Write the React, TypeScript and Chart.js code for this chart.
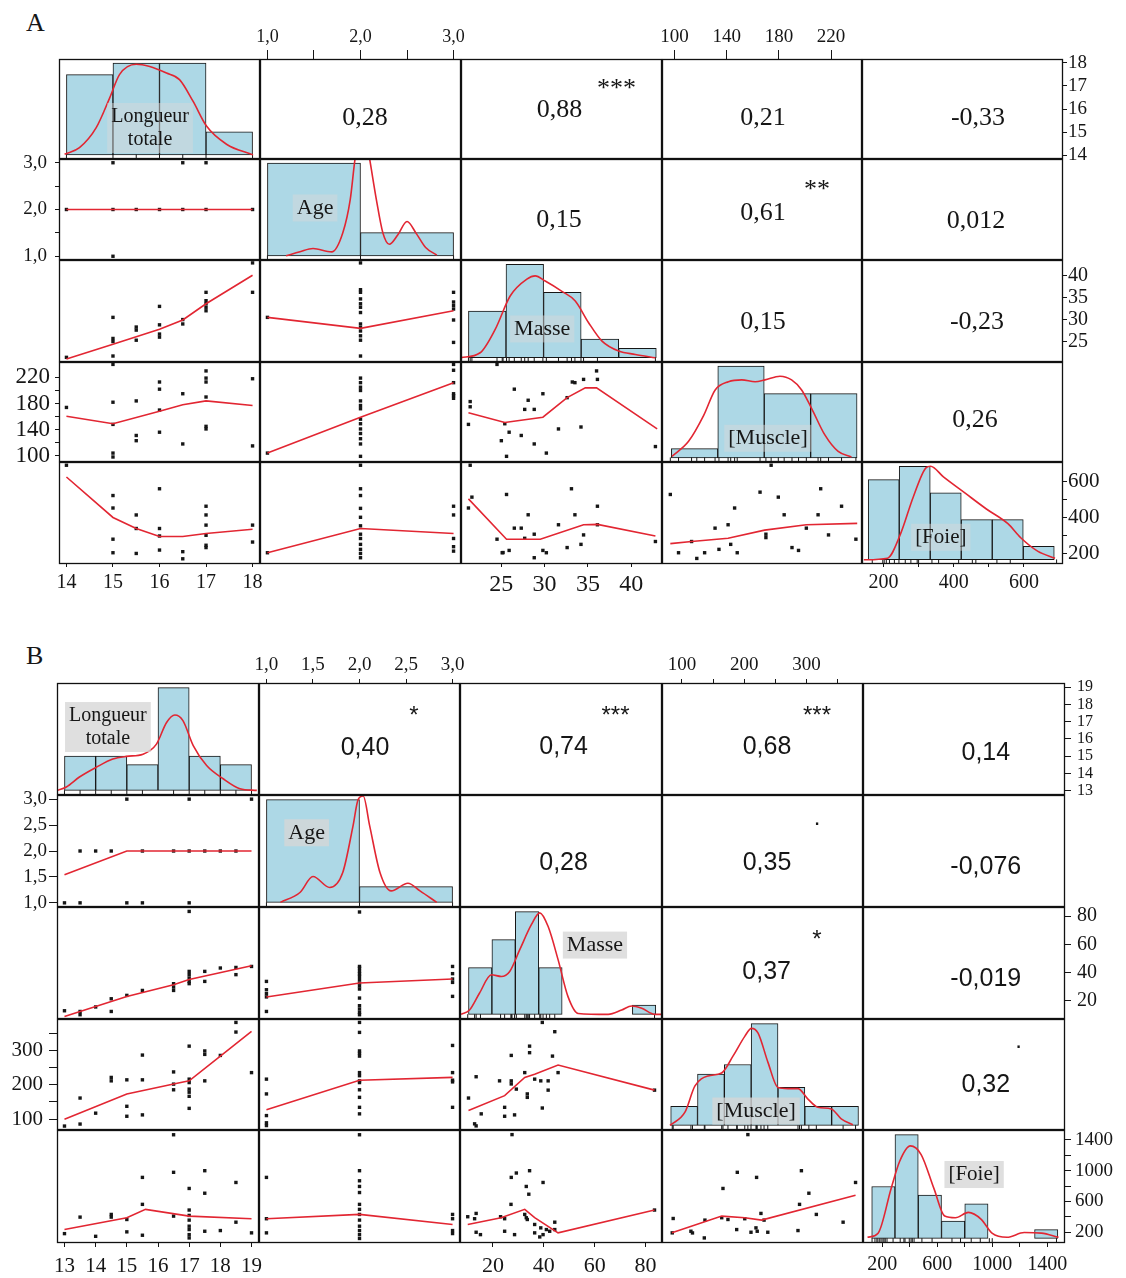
import React, { useEffect, useRef } from "react";
import { Chart, registerables } from "chart.js";

Chart.register(...registerables);

type Pt = [number, number];

const SERIF = '"Liberation Serif", "Times New Roman", Times, serif';
const SANS = '"Liberation Sans", Arial, Helvetica, sans-serif';
const RED = "rgb(226, 38, 50)";
const BAR_BLUE = "#add8e6";
const INK = "#161616";

/* ============================ PANEL A ============================ */
const A_NAMES = ["Longueur\ntotale", "Age", "Masse", "[Muscle]", "[Foie]"];
const A_RANGES: Pt[] = [[14, 18], [1, 3], [21.2, 42.7], [96, 238], [160, 690]];

// histograms: bin edges and bar heights (counts)
const A_L_EDGES = [14, 15, 16, 17, 18];
const A_L_COUNTS = [7, 8, 8, 2];
const A_AGE_EDGES = [1, 2, 3];
const A_AGE_COUNTS = [20, 5];
const A_M_EDGES = [21.2, 25.54, 29.88, 34.22, 38.56, 42.9];
const A_M_COUNTS = [5, 10, 7, 2, 1];
const A_MU_EDGES = [97.5, 133.1, 168.7, 204.3, 239.9];
const A_MU_COUNTS = [1, 10, 7, 7];
const A_F_EDGES = [156.5, 244.8, 333.1, 421.4, 509.7, 598, 686.3];
const A_F_COUNTS = [6, 7, 5, 3, 3, 1];

// density curves (same units as the counts)
const A_L_DENS: Pt[] = [[13.96, 0.06], [14.28, 0.63], [14.64, 2.37], [14.93, 4.97], [15.14, 7.0], [15.5, 7.9], [15.79, 7.7], [16.15, 7.13], [16.43, 6.56], [16.72, 4.68], [17.01, 2.51], [17.44, 0.93], [18.01, 0]];
const A_AGE_DENS: Pt[] = [[1.2, 0], [1.35, 0.9], [1.49, 1.58], [1.69, 0.86], [1.81, 5.0], [1.89, 12.2], [1.94, 20.7], [2.02, 30], [2.1, 20.7], [2.17, 12.2], [2.24, 5], [2.31, 2.5], [2.4, 4.5], [2.5, 7.4], [2.6, 4.8], [2.7, 1.8], [2.82, 0.15]];
const A_M_DENS: Pt[] = [[20.24, 0], [22.55, 0.54], [24.29, 3.04], [26.02, 6.6], [27.95, 8.4], [28.91, 8.75], [30.07, 8.2], [32.0, 7.1], [33.54, 6.07], [35.08, 3.75], [36.63, 1.78], [38.55, 0.72], [40.48, 0.36], [42.8, 0]];
const A_MU_DENS: Pt[] = [[98, 0.17], [110.7, 1.8], [122.2, 4.6], [131.1, 7.4], [141.3, 8.3], [151.5, 8.5], [161.7, 8.3], [169.3, 8.5], [180.8, 8.9], [189.7, 8.5], [197.4, 7.4], [205, 5.4], [215.2, 2.5], [225.4, 0.7], [235.6, 0.1]];
const A_F_DENS: Pt[] = [[144, 0], [211.5, 0.12], [248, 1.9], [284.8, 4.7], [321.6, 6.9], [333.9, 7.0], [370.7, 6.2], [431.7, 5.0], [493, 3.8], [554.3, 2.7], [590.8, 1.65], [639.9, 0.63], [688.4, 0.12]];

// scatter panels [x, y] and their smooth lines
const A_AGE_L: Pt[] = [[15, 3], [16.5, 3], [17, 3], [14, 2], [15, 2], [15.5, 2], [16, 2], [16.5, 2], [17, 2], [18, 2], [15, 1]];
const A_AGE_L_FIT: Pt[] = [[14, 2], [18, 2]];
const A_M_L: Pt[] = [[14, 21.4], [15, 30.5], [15, 25.7], [15, 25.0], [15, 21.7], [15.5, 28.3], [15.5, 27.6], [15.5, 25.3], [16, 33.0], [16, 28.8], [16, 26.7], [16, 26.0], [16.5, 30.0], [16.5, 29.0], [17, 36.2], [17, 34.3], [17, 33.6], [17, 32.8], [17, 32.0], [18, 42.9], [18, 36.2]];
const A_M_L_FIT: Pt[] = [[14, 21.0], [15, 24.4], [16, 27.8], [16.5, 29.9], [17, 33.6], [18, 40.1]];
const A_MU_L: Pt[] = [[14, 174], [15, 240], [15, 182], [15, 148], [15, 104], [15, 98], [15.5, 184], [15.5, 131], [15.5, 123], [16, 213], [16, 202], [16, 170], [16, 136], [16.5, 195], [16.5, 118], [17, 230], [17, 219], [17, 213], [17, 190], [17, 145], [17, 141], [18, 218], [18, 115]];
const A_MU_L_FIT: Pt[] = [[14, 160.5], [15, 149], [16, 168], [16.5, 178], [17, 184], [18, 177]];
const A_F_L: Pt[] = [[14, 693], [15, 523], [15, 453], [15, 278], [15, 202], [15.5, 414], [15.5, 338], [15.5, 198], [16, 561], [16, 338], [16, 296], [16, 217], [16.5, 208], [16.5, 168], [17, 463], [17, 414], [17, 357], [17, 300], [17, 244], [17, 231], [18, 357], [18, 262]];
const A_F_L_FIT: Pt[] = [[14, 627], [15, 400], [15.5, 338], [16, 293], [16.5, 293], [17, 310], [18, 334]];
const A_M_AGE: Pt[] = [[1, 30.5], [2, 42.9], [2, 36.8], [2, 36.2], [2, 34.7], [2, 33.6], [2, 32.8], [2, 31.6], [2, 29.0], [2, 28.2], [2, 27.4], [2, 26.3], [2, 25.3], [2, 21.7], [3, 36.2], [3, 34.0], [3, 33.2], [3, 32.4], [3, 29.9], [3, 24.8]];
const A_M_AGE_FIT: Pt[] = [[1, 30.5], [2, 28.0], [3, 32.0]];
const A_MU_AGE: Pt[] = [[1, 104], [2, 219], [2, 212], [2, 205], [2, 200], [2, 184], [2, 177], [2, 172], [2, 156], [2, 149], [2, 141], [2, 134], [2, 126], [2, 118], [2, 99], [3, 240], [3, 231], [3, 212], [3, 195], [3, 192], [3, 188]];
const A_MU_AGE_FIT: Pt[] = [[1, 104], [2, 159], [3, 212]];
const A_F_AGE: Pt[] = [[1, 202], [2, 693], [2, 561], [2, 523], [2, 451], [2, 401], [2, 353], [2, 306], [2, 282], [2, 249], [2, 221], [2, 198], [2, 174], [3, 463], [3, 414], [3, 282], [3, 236], [3, 211]];
const A_F_AGE_FIT: Pt[] = [[1, 202], [2, 338], [3, 310]];
const A_MU_M: Pt[] = [[24.5, 240], [21.4, 183], [21.4, 175], [21.2, 148], [26.5, 202], [28.1, 185], [27.7, 171], [28.8, 171], [29.8, 195], [25.4, 149], [25.9, 136], [27.3, 131], [25.0, 123], [28.8, 118], [30.2, 104], [25.6, 99], [31.6, 141], [32.6, 189], [33.2, 213], [33.5, 212], [34.5, 217], [36.0, 230], [36.1, 217], [34.2, 144], [42.8, 114]];
const A_MU_M_FIT: Pt[] = [[21.2, 166], [25.4, 151], [29.8, 159], [32.6, 189], [34.7, 204], [36, 204], [43, 141]];
const A_F_M: Pt[] = [[21.4, 693], [21.6, 514], [21.2, 453], [25.6, 529], [24.5, 278], [26.5, 340], [27.3, 340], [27.7, 283], [28.1, 415], [28.8, 306], [25.1, 202], [25.2, 203], [25.9, 215], [29.8, 215], [30.2, 202], [28.8, 174], [31.6, 359], [33.1, 561], [33.5, 415], [32.6, 231], [34.2, 249], [34.5, 302], [36.1, 463], [36.1, 359], [42.8, 265]];
const A_F_M_FIT: Pt[] = [[21.2, 504], [25.6, 278], [29.5, 278], [34.5, 359], [36.1, 361], [42.8, 296]];
const A_F_MU: Pt[] = [[96.7, 529], [103, 202], [113, 265], [117, 170], [123, 202], [131, 340], [134, 221], [141, 359], [143, 249], [146, 453], [148, 202], [165.5, 542], [170, 306], [170, 287], [174, 693], [179.5, 514], [184, 415], [190, 231], [195, 215], [201, 340], [210, 415], [212, 561], [218, 302], [228, 463], [239, 278]];
const A_F_MU_FIT: Pt[] = [[96.7, 253], [113, 265], [141, 283], [169, 329], [201, 359], [240, 367]];

// correlation panels
const A_CORR_CELLS: Pt[] = [[0, 1], [0, 2], [0, 3], [0, 4], [1, 2], [1, 3], [1, 4], [2, 3], [2, 4], [3, 4]];
const A_CORR_R = ["0,28", "0,88", "0,21", "-0,33", "0,15", "0,61", "0,012", "0,15", "-0,23", "0,26"];
const A_CORR_STARS = ["", "***", "", "", "", "**", "", "", "", ""];

// axis ticks
const A_L_TICKS = [14, 15, 16, 17, 18];
const A_AGE_TICKS = [1, 1.5, 2, 2.5, 3];
const A_AGE_LABELS = [1, 2, 3];
const A_M_TICKS = [25, 30, 35, 40];
const A_MU_TICKS_TOP = [100, 140, 180, 220];
const A_MU_TICKS_LEFT = [100, 120, 140, 160, 180, 200, 220];
const A_MU_LABELS = [100, 140, 180, 220];
const A_F_TICKS = [200, 300, 400, 500, 600];
const A_F_LABELS = [200, 400, 600];

/* ============================ PANEL B ============================ */
const B_NAMES = ["Longueur\ntotale", "Age", "Masse", "[Muscle]", "[Foie]"];
const B_RANGES: Pt[] = [[13, 19], [1, 3], [10, 83.5], [80, 379], [113.5, 1475.5]];

const B_L_EDGES = [13, 14, 15, 16, 17, 18, 19];
const B_L_COUNTS = [4, 4, 3, 12, 4, 3];
const B_AGE_EDGES = [1, 2, 3];
const B_AGE_COUNTS = [26, 4];
const B_M_EDGES = [10.4, 19.6, 28.8, 38.0, 47.2, 56.4, 65.6, 74.8, 84.0];
const B_M_COUNTS = [5, 8, 11, 5, 0, 0, 0, 1];
const B_MU_EDGES = [82, 125.1, 168.2, 211.3, 254.4, 297.5, 340.6, 383.7];
const B_MU_COUNTS = [2, 5.4, 6.4, 10.7, 4, 2, 2];
const B_F_EDGES = [122.5, 291.9, 461.3, 630.7, 800.1, 969.5, 1138.9, 1308.3, 1477.7];
const B_F_COUNTS = [6, 12, 5, 2, 4, 0, 0, 1];

const B_L_DENS: Pt[] = [[12.79, 0], [13.06, 0.4], [13.48, 1.56], [14.02, 2.7], [14.55, 3.66], [14.99, 3.97], [15.52, 4.23], [15.95, 5.4], [16.27, 7.9], [16.54, 8.8], [16.8, 8.15], [17.13, 5.23], [17.56, 2.9], [18.09, 1.36], [18.63, 0.2], [19.17, 0]];
const B_AGE_DENS: Pt[] = [[1.15, 0], [1.36, 2.5], [1.5, 6.55], [1.68, 3.78], [1.82, 7.56], [1.93, 19.3], [1.985, 26], [2.04, 26.9], [2.11, 19.3], [2.22, 7.56], [2.34, 2.9], [2.52, 4.84], [2.65, 2.9], [2.83, 0]];
const B_M_DENS: Pt[] = [[7.5, 0], [10.8, 0.46], [14.7, 2.26], [19.4, 4.24], [23.3, 4.06], [26.6, 4.6], [30.5, 6.9], [35.1, 9.6], [38.4, 10.87], [41.7, 9.4], [45.6, 5.86], [49.5, 1.9], [53.5, 0.1], [65.3, 0], [70.6, 0.46], [74.5, 0.9], [78.5, 0.65], [83.7, 0], [86.3, 0]];
const B_MU_DENS: Pt[] = [[80.8, 0], [104.9, 1.39], [121, 4.15], [142.2, 5.2], [163.7, 5.5], [182.3, 7.3], [201, 9.36], [211.8, 10.2], [222.4, 9.7], [238.4, 6.6], [254.4, 3.98], [270.5, 3.87], [286.5, 3.87], [302.5, 2.77], [318.5, 1.9], [340, 1.73], [356, 0.69], [374.7, 0.07]];
const B_F_DENS: Pt[] = [[91.8, 0.12], [169, 0.6], [263.4, 5.75], [325.5, 8.9], [403.6, 10.7], [482.4, 9.7], [575.8, 5.75], [654, 2.58], [732, 2.38], [826, 3.0], [920, 2.2], [998.5, 0.6], [1108, 0.12], [1233, 0.67], [1358, 0.6], [1483, 0.12]];

const B_AGE_L: Pt[] = [[15, 3], [17, 3], [19, 3], [13.5, 2], [14, 2], [14.5, 2], [15.5, 2], [16.5, 2], [17, 2], [17.5, 2], [18, 2], [18.5, 2], [13, 1], [13.5, 1], [15, 1], [15.5, 1], [17, 1]];
const B_AGE_L_FIT: Pt[] = [[13, 1.54], [15, 2], [19, 2]];
const B_M_L: Pt[] = [[13, 12.9], [13.5, 12.4], [13.5, 10.1], [14, 15.6], [14.5, 21.4], [14.5, 12.4], [15, 23.8], [15.5, 27.3], [16.5, 32.1], [16.5, 29.7], [16.5, 27.3], [17, 83.3], [17, 40.8], [17, 38.5], [17, 36.1], [17, 33.7], [17, 32.1], [17.5, 40.8], [17.5, 33.7], [18, 43.2], [18.5, 43.6], [18.5, 38.5], [19, 44.3]];
const B_M_L_FIT: Pt[] = [[13, 8.9], [15, 23], [16.5, 31.4], [17, 35], [19, 44.8]];
const B_MU_L: Pt[] = [[13, 79.5], [13.5, 161], [13.5, 85.3], [14, 117], [14.5, 221], [14.5, 211], [15, 214], [15, 137], [15, 108], [15.5, 286], [15.5, 214], [15.5, 112], [16.5, 237], [16.5, 201.5], [16.5, 185], [17, 312], [17, 216], [17, 206], [17, 187], [17, 178], [17, 166], [17, 131], [17.5, 298], [17.5, 288], [17.5, 211], [18, 285], [18.5, 381], [18.5, 353], [19, 235]];
const B_MU_L_FIT: Pt[] = [[13, 99], [15, 173], [16.5, 202], [17, 211], [18, 283], [19, 355]];
const B_F_L: Pt[] = [[13, 181], [13.5, 396], [14, 146], [14.5, 431], [14.5, 396], [15, 365], [15, 204], [15.5, 913], [15.5, 562], [15.5, 160], [16.5, 1468], [16.5, 979], [16.5, 409], [17, 769], [17, 488], [17, 418], [17, 357], [17, 278], [17, 234], [17, 168], [17, 125], [17.5, 1000], [17.5, 707], [17.5, 212], [18, 221], [18.5, 847], [18.5, 330], [19, 191]];
const B_F_L_FIT: Pt[] = [[13, 234], [15, 388], [15.6, 497], [17, 409], [19, 375]];
const B_M_AGE: Pt[] = [[1, 33.7], [1, 27.8], [1, 25], [1, 22.7], [1, 12.4], [2, 82.9], [2, 44.3], [2, 43], [2, 40.8], [2, 39], [2, 37.3], [2, 34.9], [2, 32.6], [2, 30.5], [2, 28.3], [2, 21.9], [2, 16.5], [2, 14.1], [2, 11.7], [2, 10.1], [3, 44.3], [3, 39.2], [3, 35.4], [3, 33], [3, 23.1]];
const B_M_AGE_FIT: Pt[] = [[1, 22.6], [2, 32.6], [3, 35.4]];
const B_MU_AGE: Pt[] = [[1, 216], [1, 173], [1, 110], [1, 89], [1, 81], [2, 381], [2, 352], [2, 298], [2, 291], [2, 283], [2, 235], [2, 226], [2, 211], [2, 206], [2, 185], [2, 163], [2, 134], [2, 115], [3, 314], [3, 235], [3, 213], [3, 208], [3, 134]];
const B_MU_AGE_FIT: Pt[] = [[1, 127], [2, 213], [3, 221]];
const B_F_AGE: Pt[] = [[1, 913], [1, 375], [1, 191], [2, 1468], [2, 1000], [2, 869], [2, 795], [2, 716], [2, 562], [2, 497], [2, 431], [2, 357], [2, 278], [2, 221], [2, 168], [2, 118], [3, 431], [3, 375], [3, 221], [3, 182]];
const B_F_AGE_FIT: Pt[] = [[1, 375], [2, 431], [3, 300]];
const B_MU_M: Pt[] = [[39.4, 381], [44.3, 354], [27.2, 285], [34.4, 312], [34.4, 293], [43.4, 283], [13.4, 223], [22.6, 211], [27.2, 211], [27.2, 202], [32.5, 235], [36.4, 216], [38.8, 211], [41.7, 211], [45.6, 235], [29.2, 187], [33.5, 173], [33.5, 163], [41.7, 184], [10.4, 161], [39.4, 132], [24.6, 134], [24.6, 108], [15.4, 115], [28.5, 112], [12.8, 86], [13.4, 80], [83.5, 184]];
const B_MU_M_FIT: Pt[] = [[10.4, 125], [24.6, 168], [32.5, 221], [36.4, 230], [45.6, 257], [83.5, 184]];
const B_F_M: Pt[] = [[27.5, 1470], [27.2, 913], [29.2, 970], [34.4, 1000], [39.7, 847], [33.1, 795], [34.1, 694], [27.1, 562], [10.1, 401], [13.4, 444], [12.8, 375], [23, 401], [24.6, 375], [32.5, 431], [33.1, 388], [33.5, 365], [36.4, 300], [38.8, 256], [41, 234], [42.3, 212], [44.3, 330], [44.3, 234], [24.6, 212], [13.4, 199], [15.1, 168], [28.5, 168], [36.4, 191], [38.4, 138], [39.7, 168], [83.5, 488]];
const B_F_M_FIT: Pt[] = [[10.1, 300], [23.2, 388], [32.5, 497], [36.4, 388], [45.6, 191], [83.5, 488]];
const B_F_MU: Pt[] = [[206, 1470], [189, 979], [220, 913], [292, 1000], [166, 769], [379, 847], [304, 707], [289, 562], [316, 431], [86, 378], [137, 357], [164, 388], [174, 365], [201, 375], [227, 444], [232, 357], [359, 330], [84.5, 191], [114.5, 212], [136, 125], [188, 234], [211, 199], [219, 256], [221, 212], [238, 199], [286.5, 221], [117, 190]];
const B_F_MU_FIT: Pt[] = [[84, 191], [164, 409], [201, 388], [228, 357], [379, 680]];

const B_CORR_R = ["0,40", "0,74", "0,68", "0,14", "0,28", "0,35", "-0,076", "0,37", "-0,019", "0,32"];
const B_CORR_STARS = ["*", "***", "***", "", "", ".", "", "*", "", "."];

const B_L_TICKS = [13, 14, 15, 16, 17, 18, 19];
const B_AGE_TICKS = [1, 1.5, 2, 2.5, 3];
const B_M_TICKS = [20, 40, 60, 80];
const B_MU_TICKS = [100, 150, 200, 250, 300, 350];
const B_MU_LABELS = [100, 200, 300];
const B_F_TICKS = [200, 400, 600, 800, 1000, 1200, 1400];
const B_F_LABELS = [200, 600, 1000, 1400];

/* ============================ LAYOUT ============================ */
const PAD = 26;
const ROOM_TB = 36;
const ROOM_LR = 58;

type AxisSpec = { ticks: number[]; labels: number[]; dec: number; size: number; tick: number; pad: number };
const ax = (ticks: number[], labels: number[], dec: number, size: number, tick: number, pad: number): AxisSpec => ({ ticks, labels, dec, size, tick, pad });

const PANELS = [
  {
    xEdges: [59, 260, 461, 662, 862, 1063],
    yEdges: [59, 159, 260, 362, 462, 564],
    names: A_NAMES,
    ranges: A_RANGES,
    hist: [[A_L_EDGES, A_L_COUNTS], [A_AGE_EDGES, A_AGE_COUNTS], [A_M_EDGES, A_M_COUNTS], [A_MU_EDGES, A_MU_COUNTS], [A_F_EDGES, A_F_COUNTS]],
    dens: [A_L_DENS, A_AGE_DENS, A_M_DENS, A_MU_DENS, A_F_DENS],
    lower: {
      "1,0": [A_AGE_L, A_AGE_L_FIT], "2,0": [A_M_L, A_M_L_FIT], "3,0": [A_MU_L, A_MU_L_FIT], "4,0": [A_F_L, A_F_L_FIT],
      "2,1": [A_M_AGE, A_M_AGE_FIT], "3,1": [A_MU_AGE, A_MU_AGE_FIT], "4,1": [A_F_AGE, A_F_AGE_FIT],
      "3,2": [A_MU_M, A_MU_M_FIT], "4,2": [A_F_M, A_F_M_FIT], "4,3": [A_F_MU, A_F_MU_FIT],
    } as Record<string, [Pt[], Pt[]]>,
    corrCells: A_CORR_CELLS,
    corrR: A_CORR_R,
    corrStars: A_CORR_STARS,
    corrOff: [[4.5, 9], [-2, 1], [1, 9], [15.5, 9], [-2.5, 10.5], [1, 4], [13.5, 12], [1, 10.7], [14.5, 10.7], [12.5, 8]] as Pt[],
    starOff: [55, -24.5] as Pt,
    numFont: `26px ${SERIF}`,
    starFont: `26px ${SERIF}`,
    starShift: 5,
    labelPos: [[0.453, 0.69], [0.274, 0.485], [0.404, 0.676], [0.53, 0.763], [0.392, 0.738]] as Pt[],
    labelSize: [20, 22, 22, 22, 21],
    labelBox: "rgba(218,218,218,0.45)",
    top: [null, ax(A_AGE_TICKS, A_AGE_LABELS, 1, 18, 9, 2), null, ax(A_MU_TICKS_TOP, A_MU_TICKS_TOP, 0, 19, 9, 2), null],
    bottom: [ax(A_L_TICKS, A_L_TICKS, 0, 20, 3, 4), null, ax(A_M_TICKS, A_M_TICKS, 0, 24, 3, 3), null, ax(A_F_TICKS, A_F_LABELS, 0, 20, 3, 4)],
    left: [null, ax(A_AGE_TICKS, A_AGE_LABELS, 1, 19, 4, 8), null, ax(A_MU_TICKS_LEFT, A_MU_LABELS, 0, 23, 4, 5), null],
    right: [ax(A_L_TICKS, A_L_TICKS, 0, 19, 4, 1), null, ax(A_M_TICKS, A_M_TICKS, 0, 20, 4, 1), null, ax(A_F_TICKS, A_F_LABELS, 0, 21, 4, 1)],
  },
  {
    xEdges: [57, 259, 460, 662, 863, 1065],
    yEdges: [683, 795, 907, 1019, 1130, 1243],
    names: B_NAMES,
    ranges: B_RANGES,
    hist: [[B_L_EDGES, B_L_COUNTS], [B_AGE_EDGES, B_AGE_COUNTS], [B_M_EDGES, B_M_COUNTS], [B_MU_EDGES, B_MU_COUNTS], [B_F_EDGES, B_F_COUNTS]],
    dens: [B_L_DENS, B_AGE_DENS, B_M_DENS, B_MU_DENS, B_F_DENS],
    lower: {
      "1,0": [B_AGE_L, B_AGE_L_FIT], "2,0": [B_M_L, B_M_L_FIT], "3,0": [B_MU_L, B_MU_L_FIT], "4,0": [B_F_L, B_F_L_FIT],
      "2,1": [B_M_AGE, B_M_AGE_FIT], "3,1": [B_MU_AGE, B_MU_AGE_FIT], "4,1": [B_F_AGE, B_F_AGE_FIT],
      "3,2": [B_MU_M, B_MU_M_FIT], "4,2": [B_F_M, B_F_M_FIT], "4,3": [B_F_MU, B_F_MU_FIT],
    } as Record<string, [Pt[], Pt[]]>,
    corrCells: A_CORR_CELLS,
    corrR: B_CORR_R,
    corrStars: B_CORR_STARS,
    corrOff: [[5.5, 9.3], [2.6, 7.7], [4.5, 7.7], [21.8, 14.3], [2.6, 12.3], [4.5, 12.3], [21.8, 15.7], [4.2, 8.7], [21.8, 16.3], [21.8, 10.5]] as Pt[],
    starOff: [54.5, -28.5] as Pt,
    numFont: `25px ${SANS}`,
    starFont: `24px ${SANS}`,
    starShift: 6,
    labelPos: [[0.252, 0.393], [0.237, 0.337], [0.668, 0.34], [0.468, 0.829], [0.55, 0.394]] as Pt[],
    labelSize: [20, 22, 22, 22, 21],
    labelBox: "rgba(214,214,214,0.78)",
    top: [null, ax(B_AGE_TICKS, B_AGE_TICKS, 1, 19, 4, 3), null, ax(B_MU_TICKS, B_MU_LABELS, 0, 19, 4, 3), null],
    bottom: [ax(B_L_TICKS, B_L_TICKS, 0, 21, 4, 7), null, ax(B_M_TICKS, B_M_TICKS, 0, 22, 4, 6), null, ax(B_F_TICKS, B_F_LABELS, 0, 20, 4, 6)],
    left: [null, ax(B_AGE_TICKS, B_AGE_TICKS, 1, 19, 8, 2), null, ax(B_MU_TICKS, B_MU_LABELS, 0, 21, 8, 6), null],
    right: [ax(B_L_TICKS, B_L_TICKS, 0, 16, 6, 6), null, ax(B_M_TICKS, B_M_TICKS, 0, 20, 6, 6), null, ax(B_F_TICKS, B_F_LABELS, 0, 19, 6, 4)],
  },
];

type PanelT = (typeof PANELS)[number];

const ext = ([a, b]: Pt): Pt => [a - 0.04 * (b - a), b + 0.04 * (b - a)];
const fmtNum = (v: number, dec: number) => v.toFixed(dec).replace(".", ",");
const toXY = (arr: Pt[]) => arr.map(([x, y]) => ({ x, y }));

type Geo = { p: number; r: number; c: number; L: number; T: number; W: number; H: number; w: number; h: number; axes: any };

function cellGeo(P: PanelT, p: number, r: number, c: number): Geo {
  const axes = {
    top: r === 0 ? P.top[c] : null,
    bottom: r === 4 ? P.bottom[c] : null,
    left: c === 0 ? P.left[r] : null,
    right: c === 4 ? P.right[r] : null,
  };
  const w = P.xEdges[c + 1] - P.xEdges[c];
  const h = P.yEdges[r + 1] - P.yEdges[r];
  const eL = PAD + (axes.left ? ROOM_LR : 0);
  const eR = PAD + (axes.right ? ROOM_LR : 0);
  const eT = PAD + (axes.top ? ROOM_TB : 0);
  const eB = PAD + (axes.bottom ? ROOM_TB : 0);
  return { p, r, c, L: P.xEdges[c] - eL, T: P.yEdges[r] - eT, W: w + eL + eR, H: h + eT + eB, w, h, axes };
}

const GEOS: Geo[] = [];
PANELS.forEach((P, p) => {
  for (let r = 0; r < 5; r++) for (let c = 0; c < 5; c++) GEOS.push(cellGeo(P, p, r, c));
});

function scaleOpts(axis: "x" | "y", position: string, range: Pt, spec: AxisSpec | null) {
  const o: any = {
    type: "linear", axis, position, min: range[0], max: range[1], bounds: "data", offset: false,
    display: !!spec, grid: { display: false }, border: { display: false }, ticks: { display: false },
  };
  if (spec) {
    o.grid = { display: true, drawOnChartArea: false, drawTicks: true, tickLength: spec.tick, color: INK, lineWidth: 1 };
    o.ticks = {
      display: true, autoSkip: false, maxRotation: 0, minRotation: 0, padding: spec.pad, color: INK,
      font: { family: SERIF, size: spec.size },
      callback: (v: number) => (spec.labels.some((l) => Math.abs(l - v) < 1e-9) ? fmtNum(v, spec.dec) : ""),
    };
    o.afterBuildTicks = (s: any) => { s.ticks = spec.ticks.map((v) => ({ value: v })); };
    o.afterFit = (s: any) => { if (axis === "x") s.height = ROOM_TB; else s.width = ROOM_LR; };
  }
  return o;
}

type TextItem = { text: string; x: number; y: number; font: string; lh: number; box?: string; baseline?: CanvasTextBaseline };

function decoPlugin(texts: TextItem[]) {
  return {
    id: "cellDeco",
    afterDatasetsDraw(chart: any) {
      const { ctx, chartArea: a } = chart;
      ctx.save();
      for (const t of texts) {
        const x = a.left + t.x;
        const y = a.top + t.y;
        ctx.font = t.font;
        const lines = t.text.split("\n");
        if (t.box) {
          const mw = Math.max(...lines.map((l) => ctx.measureText(l).width));
          const bh = lines.length * t.lh;
          ctx.fillStyle = t.box;
          ctx.fillRect(x - mw / 2 - 4, y - bh / 2 - 2, mw + 8, bh + 4);
        }
        ctx.fillStyle = INK;
        ctx.textAlign = "center";
        ctx.textBaseline = t.baseline || "middle";
        lines.forEach((ln, i) => ctx.fillText(ln, x, y + (i - (lines.length - 1) / 2) * t.lh));
      }
      ctx.strokeStyle = "#111";
      ctx.lineWidth = 1.3;
      ctx.strokeRect(a.left + 0.5, a.top + 0.5, a.right - a.left - 1, a.bottom - a.top - 1);
      ctx.restore();
    },
  };
}

function buildConfig(P: PanelT, g: Geo) {
  const { r, c, w, h, axes } = g;
  const xr = ext(P.ranges[c]);
  const yr = ext(P.ranges[r]);
  const scales: any = {
    x: scaleOpts("x", axes.top ? "top" : "bottom", xr, axes.top || axes.bottom),
    y: scaleOpts("y", axes.left ? "left" : "right", yr, axes.left || axes.right),
  };
  const datasets: any[] = [];
  const texts: TextItem[] = [];

  if (r === c) {
    const [edges, heights] = P.hist[c] as [number[], number[]];
    const hmax = Math.max(...heights);
    scales.xh = { type: "linear", axis: "x", position: "bottom", min: xr[0], max: xr[1], bounds: "data", display: false, ticks: { display: false }, afterBuildTicks: (s: any) => { s.ticks = []; } };
    scales.yh = { type: "linear", axis: "y", position: "left", min: -0.045 * hmax, max: 1.045 * hmax, bounds: "data", display: false, ticks: { display: false } };
    const rugSrc = c < 4 ? P.lower["4," + c][0].map((q) => q[0]) : P.lower["4,0"][0].map((q) => q[1]);
    const rug = Array.from(new Set(rugSrc)).map((v) => ({ x: v, y: -0.0225 * hmax }));
    datasets.push({
      type: "line", data: toXY(P.dens[c]), xAxisID: "x", yAxisID: "yh", borderColor: RED, borderWidth: 1.6,
      pointRadius: 0, cubicInterpolationMode: "monotone", fill: false, showLine: true, order: 1,
    });
    datasets.push({
      type: "scatter", data: rug, xAxisID: "x", yAxisID: "yh", pointStyle: "line", rotation: 90, pointRadius: 2.5,
      borderColor: INK, borderWidth: 1, order: 2,
    });
    datasets.push({
      type: "bar", data: heights.map((v, i) => ({ x: (edges[i] + edges[i + 1]) / 2, y: v })), xAxisID: "xh", yAxisID: "yh",
      backgroundColor: BAR_BLUE, borderColor: INK, borderWidth: 1, borderSkipped: false, grouped: false,
      barPercentage: 1, categoryPercentage: 1, order: 3,
    });
    const [fx, fy] = P.labelPos[c];
    texts.push({ text: P.names[c], x: fx * w, y: fy * h, font: `${P.labelSize[c]}px ${SERIF}`, lh: 23, box: P.labelBox });
  } else if (r > c) {
    const [pts, fit] = P.lower[r + "," + c];
    datasets.push({
      type: "line", data: toXY(fit), xAxisID: "x", yAxisID: "y", borderColor: RED, borderWidth: 1.6, pointRadius: 0,
      tension: 0, fill: false, showLine: true, order: 1,
    });
    datasets.push({
      type: "scatter", data: toXY(pts), xAxisID: "x", yAxisID: "y", pointStyle: "rect", pointRadius: 2.4,
      backgroundColor: INK, borderWidth: 0, order: 2,
    });
  } else {
    const k = P.corrCells.findIndex(([rr, cc]) => rr === r && cc === c);
    const [dx, dy] = P.corrOff[k];
    texts.push({ text: P.corrR[k], x: w / 2 + dx, y: h / 2 + dy, font: P.numFont, lh: 26 });
    const s = P.corrStars[k];
    if (s) {
      const isDot = s === ".";
      texts.push({
        text: s, x: w / 2 + P.starOff[0], y: h / 2 + P.starOff[1] + (isDot ? 2 : P.starShift), font: P.starFont, lh: 16,
        baseline: isDot ? "alphabetic" : "middle",
      });
    }
  }

  return {
    type: "scatter",
    data: { datasets },
    options: {
      animation: false,
      responsive: false,
      maintainAspectRatio: false,
      events: [],
      layout: { padding: PAD },
      plugins: { legend: { display: false }, tooltip: { enabled: false }, title: { display: false } },
      scales,
    },
    plugins: [decoPlugin(texts)],
  };
}

export default function App() {
  const refs = useRef<(HTMLCanvasElement | null)[]>([]);

  useEffect(() => {
    Chart.defaults.font.family = SERIF;
    const charts: Chart[] = [];
    GEOS.forEach((g, i) => {
      const cv = refs.current[i];
      if (!cv) return;
      charts.push(new Chart(cv, buildConfig(PANELS[g.p], g) as any));
    });
    return () => charts.forEach((ch) => ch.destroy());
  }, []);

  return (
    <div style={{ position: "absolute", left: 0, top: 0, width: 1126, height: 1278, background: "#fff" }}>
      <div style={{ position: "absolute", left: 26, top: 8, font: `26px ${SERIF}`, color: INK }}>A</div>
      <div style={{ position: "absolute", left: 26, top: 641, font: `26px ${SERIF}`, color: INK }}>B</div>
      {GEOS.map((g, i) => (
        <canvas
          key={i}
          ref={(el) => { refs.current[i] = el; }}
          width={g.W}
          height={g.H}
          style={{ position: "absolute", left: g.L, top: g.T, width: g.W, height: g.H }}
        />
      ))}
    </div>
  );
}
